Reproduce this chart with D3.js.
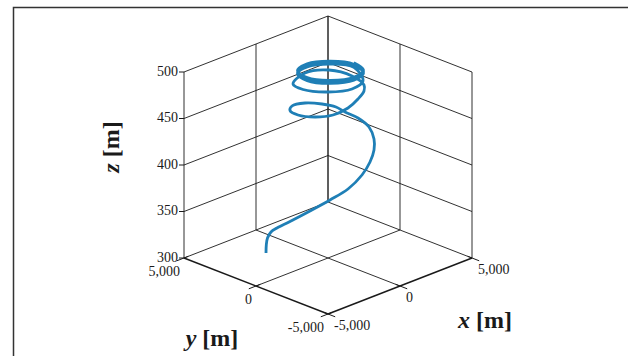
<!DOCTYPE html>
<html><head><meta charset="utf-8">
<script src="https://cdn.jsdelivr.net/npm/d3@7"></script>
<style>body{margin:0;background:#fff} svg{display:block}</style>
</head><body><svg id="c" width="628" height="356"></svg>
<script>
// ---- data ----
const xTicks = [-5000, 0, 5000];
const yTicks = [-5000, 0, 5000];
const zTicks = [300, 350, 400, 450, 500];

const pathX = [-1706,-1812,-1976,-2149,-2248,-2212,-1826,-1644,-1033,-128,647,1276,1760,2159,2083,1752,1554,1003,253,-715,-1353,-1643,-1397,-843,-29,707,1297,1667,
  1888,1459,192,-1290,-1517,-955,63,1076,
  1781,1232,161,-806,-1101,-552,519,1486,
  1781,1232,161,-806,-1101,-552,519,1486,
  1781,1232,161,-806,-1101,-552,519,1486,1781];
const pathY = [2599,2473,2226,1810,1294,427,-576,-1783,-2422,-2489,-2270,-1919,-1435,-688,0,571,998,1420,1850,1785,1286,441,-494,-1190,-1418,-1376,-1203,-833,
  221,1389,1789,1140,219,-955,-1604,-1355,
  -14,1057,1606,1311,344,-727,-1276,-981,
  -14,1057,1606,1311,344,-727,-1276,-981,
  -14,1057,1606,1311,344,-727,-1276,-981,-14];
const pathZ = [300,310,320,330,338,350,365,383,395,405,413,420,426,432,438,443,447,451,454,457,459,461,463,466,470,475,479,481,
  483,485,487,488,489,490,491,492,
  494.5,494.7,494.9,495.1,495.3,495.5,495.7,495.9,
  496.1,496.3,496.5,496.7,496.9,497.1,497.3,497.5,
  497.7,497.9,498.1,498.3,498.5,498.7,498.9,499.1,499.3];

// ---- projection through scales ----
const su = d3.scaleLinear().domain([-5000, 5000]).range([-1, 1]);
const sv = d3.scaleLinear().domain([-5000, 5000]).range([-1, 1]);
const sz = d3.scaleLinear().domain([300, 500]).range([258, 72]);
const CX = 328, KX = 72, KY = 28;
function proj(x, y, z) {
  const u = su(x), v = sv(y);
  return [CX + (u - v) * KX, sz(z) - (u + v) * KY];
}
const fmt = d3.formatLocale({decimal: ".", thousands: ",", grouping: [3], currency: ["", ""], minus: "-"}).format(",");

const svg = d3.select("#c");
const ink = "#1a1a1a";
const serif = "'Liberation Serif', 'DejaVu Serif', serif";
const tickSize = 14;

// frame
svg.append("rect").attr("x", 13.5).attr("y", 7.5).attr("width", 800).attr("height", 500)
  .attr("fill", "none").attr("stroke", "#333").attr("stroke-width", 1.5);

const g = svg.append("g");
function seg(a, b, w) {
  const p = proj(...a), q = proj(...b);
  g.append("line").attr("x1", p[0]).attr("y1", p[1]).attr("x2", q[0]).attr("y2", q[1])
    .attr("stroke", ink).attr("stroke-width", w || 0.9);
}
const xMin = -5000, xMax = 5000, yMin = -5000, yMax = 5000, zMin = 300, zMax = 500;
// back-left wall (y = yMax)
zTicks.forEach(z => seg([xMin, yMax, z], [xMax, yMax, z]));
xTicks.forEach(x => seg([x, yMax, zMin], [x, yMax, zMax]));
// back-right wall (x = xMax)
zTicks.forEach(z => seg([xMax, yMax, z], [xMax, yMin, z]));
yTicks.forEach(y => seg([xMax, y, zMin], [xMax, y, zMax]));
// floor
seg([0, yMin, zMin], [0, yMax, zMin]);
seg([xMin, 0, zMin], [xMax, 0, zMin]);
// front axes
seg([xMin, yMin, zMin], [xMax, yMin, zMin], 1.5);
seg([xMin, yMin, zMin], [xMin, yMax, zMin], 1.5);

// ticks
zTicks.forEach(z => {
  const p = proj(xMin, yMax, z);
  g.append("line").attr("x1", p[0] - 5).attr("x2", p[0]).attr("y1", p[1]).attr("y2", p[1]).attr("stroke", ink).attr("stroke-width", 1);
  g.append("text").attr("x", p[0] - 6).attr("y", p[1] + 3.5).attr("text-anchor", "end")
    .attr("font-family", serif).attr("font-size", tickSize).attr("fill", ink).text(fmt(z));
});
yTicks.forEach(y => {
  const p = proj(xMin, y, zMin), q = proj(xMin - 500, y, zMin), r = proj(xMin + 300, y, zMin);
  g.append("line").attr("x1", r[0]).attr("y1", r[1]).attr("x2", q[0]).attr("y2", q[1]).attr("stroke", ink).attr("stroke-width", 1);
  g.append("text").attr("x", p[0] - 4).attr("y", p[1] + 18).attr("text-anchor", "end")
    .attr("font-family", serif).attr("font-size", tickSize).attr("fill", ink).text(fmt(y));
});
xTicks.forEach(x => {
  const p = proj(x, yMin, zMin), q = proj(x, yMin - 500, zMin), r = proj(x, yMin + 300, zMin);
  g.append("line").attr("x1", r[0]).attr("y1", r[1]).attr("x2", q[0]).attr("y2", q[1]).attr("stroke", ink).attr("stroke-width", 1);
  g.append("text").attr("x", p[0] + 6).attr("y", p[1] + 16).attr("text-anchor", "start")
    .attr("font-family", serif).attr("font-size", tickSize).attr("fill", ink).text(fmt(x));
});

// axis titles
function title(x, y, sym, rot) {
  const t = svg.append("text").attr("font-family", serif).attr("font-size", 24).attr("font-weight", "bold")
    .attr("fill", ink).attr("text-anchor", "middle");
  if (rot) t.attr("transform", `translate(${x},${y}) rotate(-90)`); else t.attr("x", x).attr("y", y);
  t.append("tspan").attr("font-style", "italic").text(sym);
  t.append("tspan").text(" [m]");
}
title(485, 328, "x");
title(212, 346, "y");
title(119, 147, "z", true);

// trajectory
const pts = pathX.map((x, i) => proj(x, pathY[i], pathZ[i]));
svg.append("path").attr("d", d3.line().curve(d3.curveCatmullRom.alpha(0.5))(pts))
  .attr("fill", "none").attr("stroke", "#1f7fb6").attr("stroke-width", 2.8)
  .attr("stroke-linejoin", "round");
</script></body></html>
